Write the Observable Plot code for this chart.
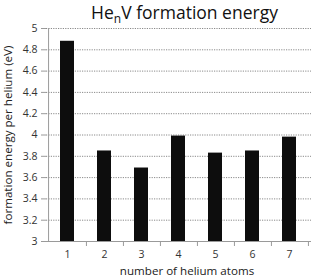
<!DOCTYPE html>
<html>
<head>
<meta charset="utf-8">
<script src="https://cdn.jsdelivr.net/npm/d3@7"></script>
<script src="https://cdn.jsdelivr.net/npm/@observablehq/plot@0.6"></script>
<style>
  body { margin: 0; background: #fff; }
  #wrap { position: relative; width: 313px; height: 278px; font-family: "Open Sans", Lato, sans-serif; }
  #title { position: absolute; top: 1px; left: 0; width: 313px; text-align: center; font-size: 17.5px; color: #111; padding-left: 56px; box-sizing: border-box; line-height: 22px; }
  #title sub { font-size: 12px; vertical-align: -4px; line-height: 0; }
</style>
</head>
<body>
<div id="wrap">
  <div id="title">He<sub>n</sub>V formation energy</div>
  <div id="chart"></div>
</div>
<script>
const heliumAtoms = [1, 2, 3, 4, 5, 6, 7];
const formationEnergy = [4.88, 3.85, 3.69, 3.99, 3.83, 3.85, 3.98];
const yTicks = [3, 3.2, 3.4, 3.6, 3.8, 4, 4.2, 4.4, 4.6, 4.8, 5];
const yLabel = "formation energy per helium (eV)";
const xLabel = "number of helium atoms";

const data = heliumAtoms.map((n, i) => ({n, e: formationEnergy[i]}));

const W = 313, H = 278, mL = 46, mR = 2, mT = 28, mB = 37;
const step = (W - mL - mR) / heliumAtoms.length;
const axisColor = "#9a9a9a";
const textColor = "#333";

const plot = Plot.plot({
  width: W,
  height: H,
  marginLeft: mL,
  marginRight: mR,
  marginTop: mT,
  marginBottom: mB,
  style: {fontFamily: "'Open Sans', Lato, sans-serif", fontSize: "10.5px", background: "white", color: textColor, overflow: "visible"},
  x: {type: "band", domain: heliumAtoms, paddingInner: 0.62, paddingOuter: 0.31, label: null},
  y: {domain: [3, 5], label: null},
  marks: [
    Plot.gridY(yTicks, {stroke: "#8a8a8a", strokeOpacity: 1, strokeDasharray: "1.2,1.2"}),
    Plot.barY(data, {x: "n", y1: 3, y2: "e", fill: "#0d0d0d"}),
    Plot.ruleY([3], {stroke: axisColor, strokeWidth: 1}),
    Plot.ruleX([heliumAtoms[0]], {dx: -step / 2, stroke: axisColor}),
    Plot.axisY(yTicks, {tickSize: 5, tickPadding: 4, stroke: axisColor, tickFormat: d => d3.format("~g")(d), fill: textColor, label: null}),
    Plot.axisX(heliumAtoms, {tickSize: 5, dx: step / 2, tickFormat: () => null, stroke: axisColor, label: null}),
    Plot.axisX(heliumAtoms, {tickSize: 0, tickPadding: 9, fill: textColor, label: null}),
    Plot.text([yLabel], {frameAnchor: "left", textAnchor: "middle", text: d => d, rotate: -90, dx: -38, fontSize: 11.6, fill: "#222"}),
    Plot.text([xLabel], {frameAnchor: "bottom", textAnchor: "middle", text: d => d, dx: 8, dy: 33.5, fontSize: 11.6, fill: "#222"})
  ]
});
document.getElementById("chart").appendChild(plot);
</script>
</body>
</html>
